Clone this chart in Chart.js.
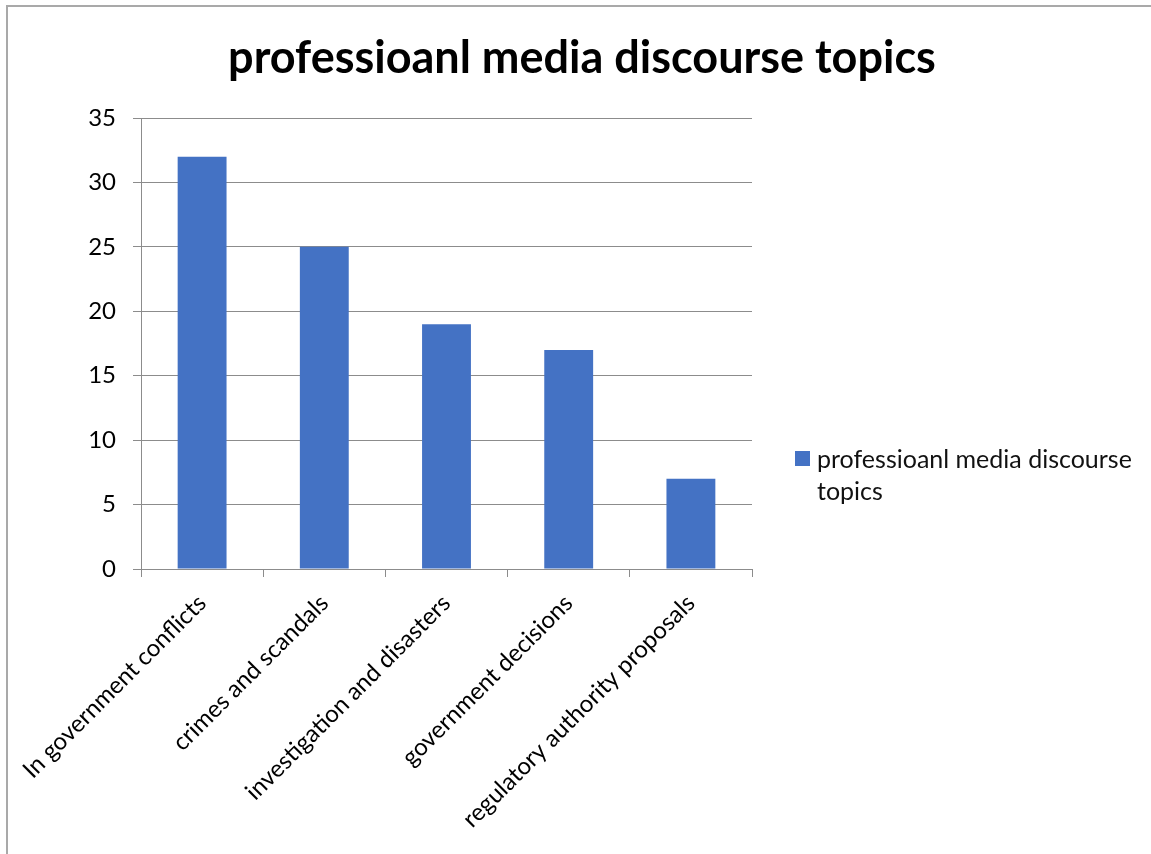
<!DOCTYPE html>
<html>
<head>
<meta charset="utf-8">
<script src="https://cdn.jsdelivr.net/npm/chart.js@4.4.1/dist/chart.umd.min.js"></script>
<style>
  html, body { margin: 0; padding: 0; background: #fff; overflow: hidden; }
  #wrap { position: relative; width: 1151px; height: 854px; }
  #frame { position: absolute; left: 6px; top: 5px; width: 1200px; height: 900px;
           border-left: 2px solid #a9a9a9; border-top: 2px solid #a9a9a9; }
  #grafico { position: absolute; left: 0; top: 0; }
  #legenda { position: absolute; left: 795px; top: 442px; width: 356px;
             font-family: Lato, "Open Sans", sans-serif; font-size: 25px; line-height: 32px; color: #111; }
  #legenda .box { position: absolute; left: 0; top: 9px; width: 15px; height: 15px; background: #4472C4; }
  #legenda .txt { margin-left: 22px; white-space: nowrap; }
</style>
</head>
<body>
<div id="wrap">
  <div id="frame"></div>
  <canvas id="grafico" width="1151" height="854"></canvas>
  <div id="legenda"><span class="box"></span><div class="txt">professioanl media discourse<br>topics</div></div>
</div>
<script>
// Dados do gráfico
const titulo = 'professioanl media discourse topics';
const categorias = [
    'In government conflicts',
    'crimes and scandals',
    'investigation and disasters',
    'government decisions',
    'regulatory authority proposals'
];
const valores = [32, 25, 19, 17, 7];
const eixoY = { min: 0, max: 35, passo: 5 };

const corBarra = '#4472C4';
const corGrade = '#8c8c8c';
const fonte = 'Lato, "Open Sans", sans-serif';

const ctx = document.getElementById('grafico');

new Chart(ctx, {
    type: 'bar',
    data: {
        labels: categorias,
        datasets: [{
            label: titulo,
            data: valores,
            backgroundColor: corBarra,
            borderWidth: 0,
            barPercentage: 0.4,
            categoryPercentage: 1.0
        }]
    },
    options: {
        responsive: false,
        animation: false,
        layout: { padding: { left: 13, right: 0, top: 0, bottom: 0 } },
        plugins: {
            legend: { display: false },
            tooltip: { enabled: false },
            title: {
                display: true,
                text: titulo,
                color: '#000',
                font: { family: fonte, size: 45, weight: 'bold' },
                padding: { top: 31, bottom: 33 }
            }
        },
        scales: {
            x: {
                grid: { display: true, drawOnChartArea: false, offset: true, color: corGrade, tickLength: 8 },
                border: { display: true, color: corGrade },
                ticks: {
                    color: '#000',
                    font: { family: fonte, size: 24 },
                    minRotation: 45,
                    maxRotation: 45,
                    padding: 12
                },
                afterFit: (s) => { s.height = 854 - 569; }
            },
            y: {
                min: eixoY.min,
                max: eixoY.max,
                ticks: {
                    stepSize: eixoY.passo,
                    color: '#000',
                    font: { family: fonte, size: 24 },
                    padding: 17
                },
                grid: { color: corGrade, tickLength: 8 },
                border: { display: true, color: corGrade },
                afterFit: (s) => { s.width = 141 - 13; }
            },
            espaco: {
                type: 'linear',
                position: 'right',
                grid: { display: false },
                border: { display: false },
                ticks: { display: false },
                afterFit: (s) => { s.width = 1151 - 752; }
            }
        }
    }
});
</script>
</body>
</html>
